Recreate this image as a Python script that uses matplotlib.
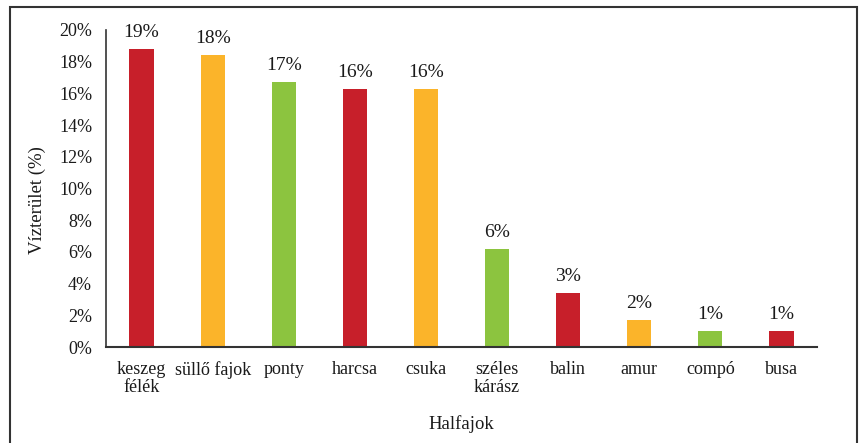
import matplotlib
matplotlib.use("Agg")
import matplotlib.pyplot as plt
from matplotlib.patches import Rectangle
from matplotlib.ticker import FuncFormatter, MultipleLocator

categories = ["keszeg\nfélék", "süllő fajok", "ponty", "harcsa", "csuka",
              "széles\nkárász", "balin", "amur", "compó", "busa"]
values = [18.8, 18.4, 16.7, 16.3, 16.3, 6.2, 3.4, 1.7, 1.0, 1.0]

RED, ORANGE, GREEN = "#C71F2A", "#FBB42A", "#8CC43F"
colors = [RED, ORANGE, GREEN, RED, ORANGE, GREEN, RED, ORANGE, GREEN, RED]
TEXT = "#1a1a1a"

plt.rcParams["font.family"] = ["Liberation Serif", "DejaVu Serif"]

fig = plt.figure(figsize=(8.59, 4.43), dpi=100)
ax = fig.add_axes([106 / 859, 1 - 347 / 443, (817 - 106) / 859, (347 - 30) / 443])

x = range(len(categories))
ax.bar(x, values, width=0.34, color=colors, zorder=2)

for xi, v in zip(x, values):
    ax.text(xi, v + 0.5, f"{v:.0f}%", ha="center", va="bottom",
            fontsize=14, color=TEXT)

ax.set_xlim(-0.5, len(categories) - 0.5)
ax.set_ylim(0, 20)
ax.yaxis.set_major_locator(MultipleLocator(2))
ax.yaxis.set_major_formatter(FuncFormatter(lambda v, _: f"{v:.0f}%"))
ax.set_xticks(list(x))
ax.set_xticklabels(categories, fontsize=13, linespacing=1.05)
ax.tick_params(axis="both", length=0, colors=TEXT)
ax.tick_params(axis="x", pad=10)
ax.tick_params(axis="y", labelsize=13, pad=10)

for side in ("top", "right"):
    ax.spines[side].set_visible(False)
ax.spines["left"].set_color("#333333")
ax.spines["bottom"].set_color("#333333")
ax.spines["left"].set_linewidth(1.2)
ax.spines["bottom"].set_linewidth(1.5)

ax.set_ylabel("Vízterület (%)", fontsize=13.5, color=TEXT)
ax.yaxis.set_label_coords(-0.085, 0.465)
ax.set_xlabel("Halfajok", fontsize=13.5, color=TEXT, labelpad=14)

# outer frame around the figure
fig.patches.append(Rectangle((10 / 859, -0.05), (857 - 10) / 859, 1.05 - 7 / 443,
                             transform=fig.transFigure, fill=False,
                             edgecolor="#333333", linewidth=1.5))

fig.savefig("out.png", dpi=100)
